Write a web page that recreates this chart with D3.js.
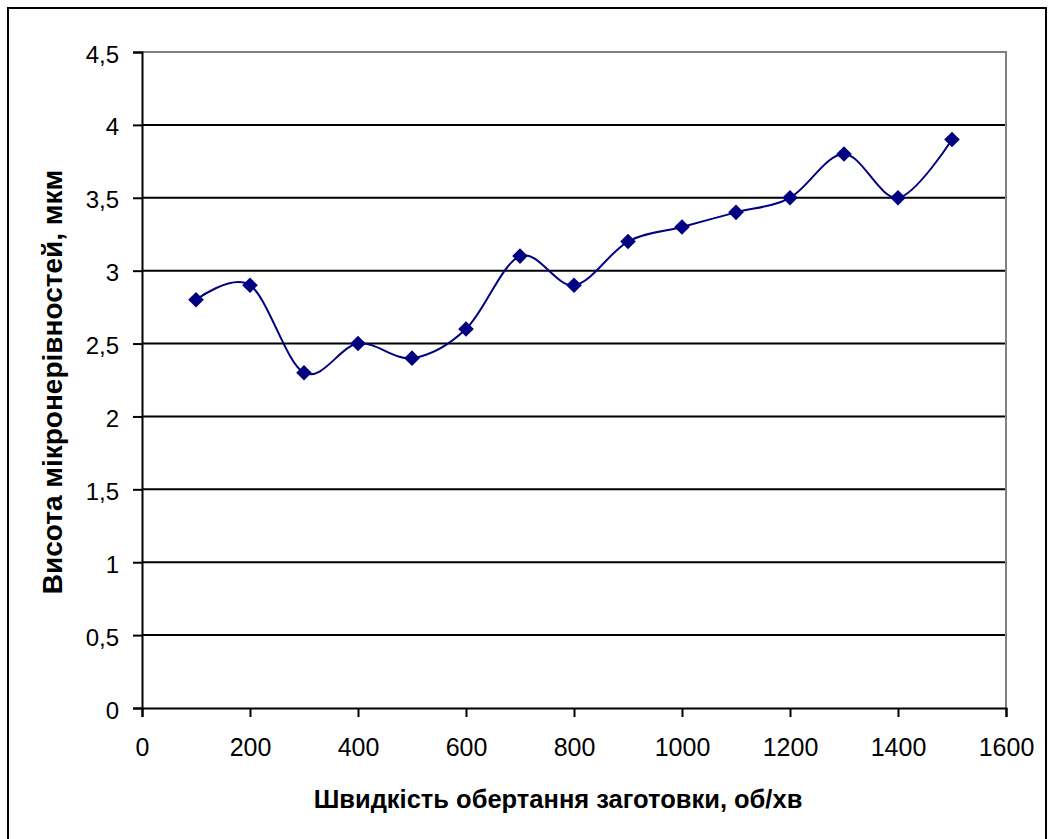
<!DOCTYPE html>
<html lang="uk">
<head>
    <meta charset="UTF-8">
    <title>Chart</title>
    <style>
        body { margin: 0; background: #fff; }
        svg text { font-family: "Liberation Sans", Arial, sans-serif; fill: #000; }
    </style>
</head>
<body>
    <script src="https://d3js.org/d3.v7.min.js"></script>
    <script>
        // speed of rotation (rpm) vs microroughness height (um)
        const speeds = [100, 200, 300, 400, 500, 600, 700, 800, 900, 1000, 1100, 1200, 1300, 1400, 1500]
        const heights = [2.8, 2.9, 2.3, 2.5, 2.4, 2.6, 3.1, 2.9, 3.2, 3.3, 3.4, 3.5, 3.8, 3.5, 3.9]
        const xTicks = [0, 200, 400, 600, 800, 1000, 1200, 1400, 1600]
        const yTicks = [0, 0.5, 1, 1.5, 2, 2.5, 3, 3.5, 4, 4.5]
        const xTitle = 'Швидкість обертання заготовки, об/хв'
        const yTitle = 'Висота мікронерівностей, мкм'

        const width = 1052
        const height = 839
        const plot = { left: 142, right: 1006, top: 52, bottom: 708 }

        const svg = d3.select('body')
            .append('svg')
            .attr('width', width)
            .attr('height', height)

        // outer frame
        svg.append('rect')
            .attr('x', 8)
            .attr('y', 8)
            .attr('width', 1038)
            .attr('height', 860)
            .attr('fill', 'none')
            .attr('stroke', '#000')
            .attr('stroke-width', 2)

        const x = d3.scaleLinear().domain([0, 1600]).range([plot.left, plot.right])
        const y = d3.scaleLinear().domain([0, 4.5]).range([plot.bottom, plot.top])
        const fmt = d => String(d).replace('.', ',')

        // gridlines
        svg.append('g')
            .selectAll('line')
            .data(yTicks.filter(d => d > 0 && d < 4.5))
            .join('line')
            .attr('x1', plot.left)
            .attr('x2', plot.right)
            .attr('y1', d => y(d))
            .attr('y2', d => y(d))
            .attr('stroke', '#000')
            .attr('stroke-width', 2)

        // plot area border (top, right)
        svg.append('path')
            .attr('d', `M${plot.left},${plot.top}H${plot.right}V${plot.bottom}`)
            .attr('fill', 'none')
            .attr('stroke', '#808080')
            .attr('stroke-width', 2)

        // y axis
        const yAxis = svg.append('g')
            .attr('transform', `translate(${plot.left},0)`)
            .call(d3.axisLeft(y).tickValues(yTicks).tickFormat(fmt).tickSize(9).tickPadding(14))
        yAxis.select('.domain').attr('stroke-width', 2)
        yAxis.selectAll('.tick line').attr('stroke-width', 2)
        yAxis.selectAll('text')
            .attr('font-size', 24)
            .attr('font-family', '"Liberation Sans", Arial, sans-serif')
            .attr('dy', '0.42em')

        // x axis
        const xAxis = svg.append('g')
            .attr('transform', `translate(0,${plot.bottom})`)
            .call(d3.axisBottom(x).tickValues(xTicks).tickFormat(d => String(d)).tickSize(9).tickPadding(21))
        xAxis.select('.domain').attr('stroke-width', 2)
        xAxis.selectAll('.tick line').attr('stroke-width', 2)
        xAxis.selectAll('text')
            .attr('font-size', 25)
            .attr('font-family', '"Liberation Sans", Arial, sans-serif')

        // titles
        svg.append('text')
            .attr('x', 558)
            .attr('y', 808)
            .attr('text-anchor', 'middle')
            .attr('font-size', 25.5)
            .attr('font-weight', 'bold')
            .text(xTitle)

        svg.append('text')
            .attr('transform', 'translate(62,382) rotate(-90)')
            .attr('text-anchor', 'middle')
            .attr('font-size', 28)
            .attr('font-weight', 'bold')
            .text(yTitle)

        // smoothed line
        const data = speeds.map((s, i) => ({ s, h: heights[i] }))
        const line = d3.line()
            .x(d => x(d.s))
            .y(d => y(d.h))
            .curve(d3.curveCatmullRom.alpha(0))

        svg.append('path')
            .datum(data)
            .attr('fill', 'none')
            .attr('stroke', '#000080')
            .attr('stroke-width', 2)
            .attr('d', line)

        // diamond markers
        svg.append('g')
            .selectAll('path')
            .data(data)
            .join('path')
            .attr('transform', d => `translate(${x(d.s)},${y(d.h)})`)
            .attr('d', d3.symbol(d3.symbolDiamond2, 155))
            .attr('fill', '#000080')
    </script>
</body>
</html>
